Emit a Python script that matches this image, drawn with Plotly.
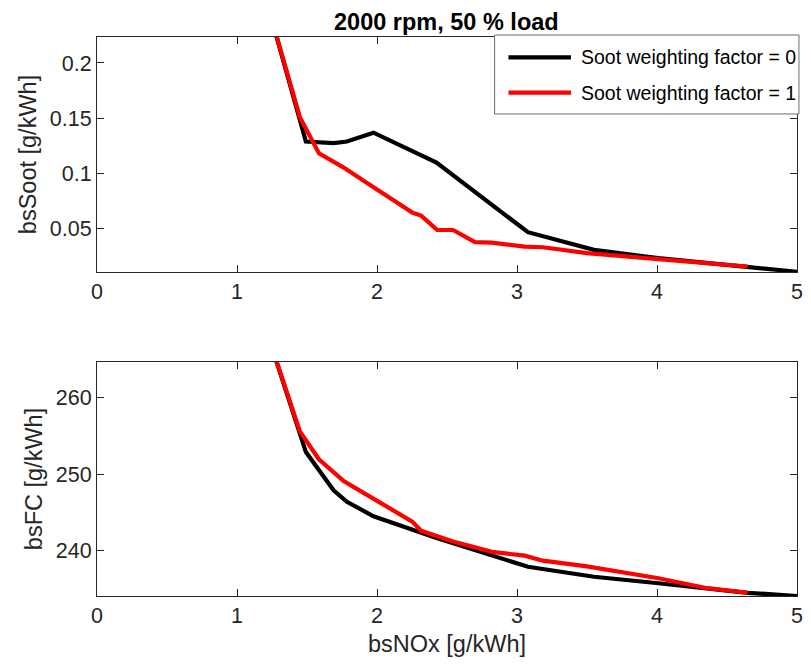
import plotly.graph_objects as go
from plotly.subplots import make_subplots

# ---------------- data ----------------
nox_w0 = [1.22, 1.449, 1.492, 1.690, 1.785, 1.975, 2.425, 3.078, 3.550, 4.010, 4.648, 5.000]
soot_w0 = [0.252, 0.151, 0.129, 0.1275, 0.129, 0.137, 0.110, 0.047, 0.031, 0.0235, 0.016, 0.0112]
fc_w0 = [268.2, 255.6, 252.9, 247.9, 246.4, 244.5, 241.65, 237.9, 236.6, 235.75, 234.5, 234.08]

nox_w1 = [1.22, 1.449, 1.585, 1.762, 1.910, 2.252, 2.315, 2.430, 2.543, 2.700, 2.820, 3.055, 3.185, 3.500, 4.010, 4.360, 4.648]
soot_w1 = [0.252, 0.151, 0.1183, 0.1054, 0.0931, 0.0647, 0.0620, 0.0490, 0.0490, 0.0380, 0.0375, 0.0340, 0.0334, 0.0280, 0.0226, 0.0190, 0.0160]
fc_w1 = [268.2, 255.6, 251.95, 249.1, 247.5, 243.8, 242.6, 241.9, 241.2, 240.45, 239.85, 239.35, 238.7, 237.95, 236.4, 235.1, 234.5]

series_names = ["Soot weighting factor = 0", "Soot weighting factor = 1"]
series_colors = ["#000000", "#ff0000"]

x_ticks = [0, 1, 2, 3, 4, 5]
soot_ticks = [0.05, 0.1, 0.15, 0.2]
soot_ticklabels = ["0.05", "0.1", "0.15", "0.2"]
fc_ticks = [240, 250, 260]

title_text = "2000 rpm, 50 % load"
x_title = "bsNOx [g/kWh]"
y1_title = "bsSoot [g/kWh]"
y2_title = "bsFC [g/kWh]"

# ---------------- figure ----------------
FONT = "Liberation Sans, Arial, Helvetica, sans-serif"
AX = "#262626"
LW = 4.2

fig = make_subplots(rows=2, cols=1, vertical_spacing=0.1)

xs = [nox_w0, nox_w1]
soots = [soot_w0, soot_w1]
fcs = [fc_w0, fc_w1]
for i in range(2):
    fig.add_trace(go.Scatter(x=xs[i], y=soots[i], mode="lines", name=series_names[i],
                             line=dict(color=series_colors[i], width=LW), showlegend=False),
                  row=1, col=1)
    fig.add_trace(go.Scatter(x=xs[i], y=fcs[i], mode="lines", name=series_names[i],
                             line=dict(color=series_colors[i], width=LW), showlegend=False),
                  row=2, col=1)

axis_common = dict(showgrid=False, zeroline=False, showline=True, linecolor=AX, linewidth=1,
                   mirror="ticks", ticks="inside", ticklen=7, tickwidth=1, tickcolor=AX,
                   tickfont=dict(family=FONT, size=21.5, color=AX))

fig.update_xaxes(**axis_common, range=[0, 5], tickvals=x_ticks, ticktext=[str(v) for v in x_ticks])
fig.update_xaxes(title=dict(text=x_title, font=dict(family=FONT, size=23.5, color=AX), standoff=8),
                 row=2, col=1)

fig.update_yaxes(**axis_common)
fig.update_yaxes(domain=[0.5796, 1.0], range=[0.011, 0.2235], tickvals=soot_ticks,
                 ticktext=soot_ticklabels,
                 title=dict(text=y1_title, font=dict(family=FONT, size=23.5, color=AX), standoff=6),
                 row=1, col=1)
fig.update_yaxes(domain=[0.0, 0.4186], range=[234.08, 264.67], tickvals=fc_ticks,
                 ticktext=[str(v) for v in fc_ticks],
                 title=dict(text=y2_title, font=dict(family=FONT, size=23.5, color=AX), standoff=6),
                 row=2, col=1)

# title
fig.add_annotation(text="<b>" + title_text + "</b>", xref="paper", yref="paper", x=0.4993, y=1.0268,
                   xanchor="center", yanchor="middle", showarrow=False,
                   font=dict(family=FONT, size=23.5, color="#000000"))

# legend (drawn manually, MATLAB style)
fig.add_shape(type="rect", xref="paper", yref="paper", x0=0.568, x1=1.0028, y0=0.8623, y1=1.0036,
              line=dict(color="#6e6e6e", width=1), fillcolor="white", layer="above")
leg_y = [0.9637, 0.9004]
for i in range(2):
    fig.add_shape(type="line", xref="paper", yref="paper", x0=0.5878, x1=0.6771, y0=leg_y[i], y1=leg_y[i],
                  line=dict(color=series_colors[i], width=LW), layer="above")
    fig.add_annotation(text=series_names[i], xref="paper", yref="paper", x=0.688, y=leg_y[i],
                       xanchor="left", yanchor="middle", showarrow=False,
                       font=dict(family=FONT, size=19.5, color="#000000"))

fig.update_layout(width=811, height=667, margin=dict(l=97, r=8, t=37, b=71),
                  paper_bgcolor="white", plot_bgcolor="white", showlegend=False)

fig.write_html("out.html")
